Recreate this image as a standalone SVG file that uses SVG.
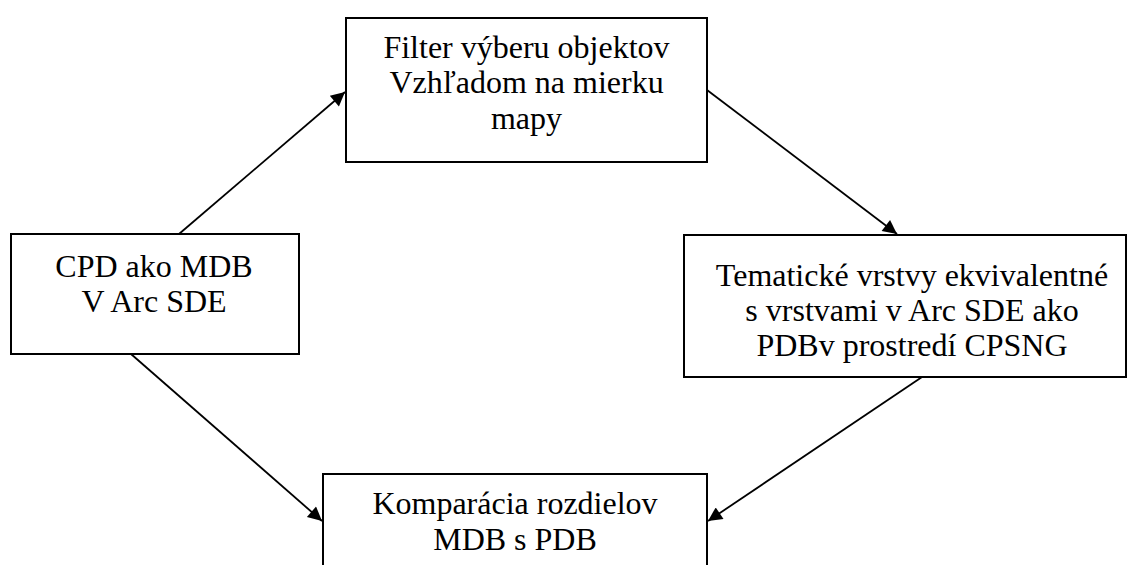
<svg xmlns="http://www.w3.org/2000/svg" width="1128" height="565" viewBox="0 0 1128 565">
<style>
.box{fill:#fff;stroke:#000;stroke-width:2}
.lbl{font-family:"Liberation Serif","Times New Roman",serif;font-size:32px;fill:#000;text-anchor:middle}
.conn{stroke:#000;stroke-width:1.8;fill:none;marker-end:url(#ah)}
</style>
<defs>
<marker id="ah" viewBox="0 0 10 10" refX="10" refY="5" markerWidth="18" markerHeight="14" markerUnits="userSpaceOnUse" orient="auto">
<path d="M0,0 L10,5 L0,10 z" fill="#000"/>
</marker>
</defs>
<rect width="1128" height="565" fill="#fff"/>
<g id="n-filter">
<rect class="box" x="346" y="18" width="361" height="144"/>
<text class="lbl" x="526.5" y="58">Filter výberu objektov</text>
<text class="lbl" x="526.5" y="93">Vzhľadom na mierku</text>
<text class="lbl" x="526.5" y="129">mapy</text>
</g>
<g id="n-cpd">
<rect class="box" x="11" y="234" width="288" height="120"/>
<text class="lbl" x="154" y="277">CPD ako MDB</text>
<text class="lbl" x="154" y="312">V Arc SDE</text>
</g>
<g id="n-tema">
<rect class="box" x="684" y="235" width="442" height="142"/>
<text class="lbl" x="912" y="286">Tematické vrstvy ekvivalentné</text>
<text class="lbl" x="912" y="321">s vrstvami v Arc SDE ako</text>
<text class="lbl" x="912" y="356">PDBv prostredí CPSNG</text>
</g>
<g id="n-komp">
<rect class="box" x="323" y="474" width="384" height="110"/>
<text class="lbl" x="515" y="514">Komparácia rozdielov</text>
<text class="lbl" x="515" y="550">MDB s PDB</text>
</g>
<g id="connectors">
<line class="conn" x1="179" y1="234" x2="345" y2="92"/>
<line class="conn" x1="707" y1="90" x2="897" y2="234"/>
<line class="conn" x1="131" y1="354" x2="322" y2="521"/>
<line class="conn" x1="922" y1="377" x2="708" y2="521"/>
</g>
</svg>
